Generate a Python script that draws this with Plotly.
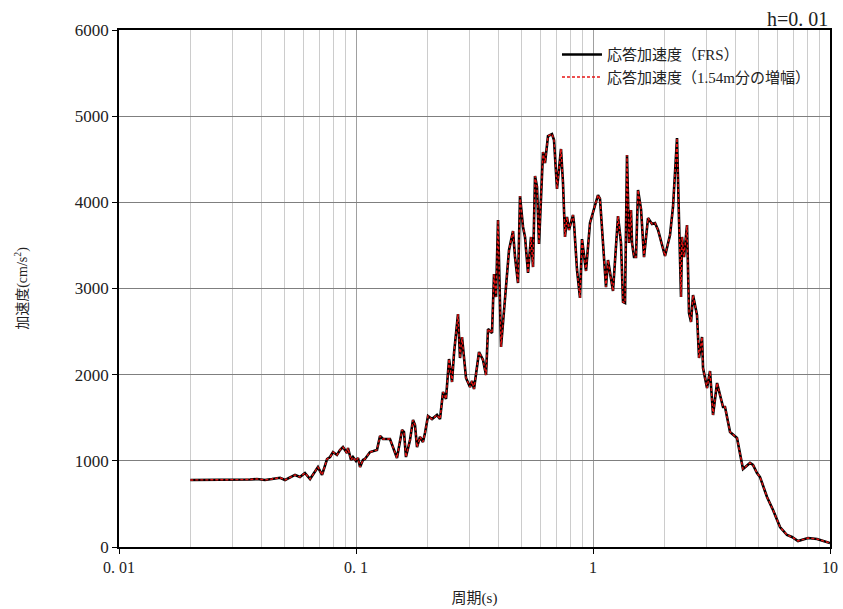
import plotly.graph_objects as go

# Floor response spectrum, damping h = 0.01
period = [
    0.0200, 0.0231, 0.0267, 0.0309, 0.0357, 0.0382, 0.0413, 0.0442, 0.0478, 0.0502,
    0.0553, 0.0580, 0.0609, 0.0640, 0.0671, 0.0691, 0.0719, 0.0755, 0.0777, 0.0800,
    0.0831, 0.0856, 0.0881, 0.0916, 0.0925, 0.0953, 0.0971, 0.1000, 0.1020, 0.1040,
    0.1070, 0.1091, 0.1146, 0.1226, 0.1263, 0.1300, 0.1391, 0.1433, 0.1489, 0.1564,
    0.1594, 0.1625, 0.1690, 0.1740, 0.1774, 0.1809, 0.1862, 0.1917, 0.1955, 0.2013,
    0.2093, 0.2197, 0.2262, 0.2329, 0.2398, 0.2469, 0.2542, 0.2592, 0.2694, 0.2747,
    0.2801, 0.2912, 0.3027, 0.3087, 0.3147, 0.3304, 0.3435, 0.3537, 0.3606, 0.3749,
    0.3823, 0.3898, 0.3974, 0.4092, 0.4296, 0.4423, 0.4598, 0.4688, 0.4826, 0.4921,
    0.5066, 0.5166, 0.5319, 0.5476, 0.5584, 0.5693, 0.5805, 0.5919, 0.6153, 0.6274,
    0.6459, 0.6714, 0.6846, 0.7049, 0.7328, 0.7472, 0.7618, 0.7768, 0.7921, 0.8234,
    0.8314, 0.8560, 0.8813, 0.8987, 0.9343, 0.9713, 1.0498, 1.0704, 1.1345, 1.1569,
    1.2145, 1.2751, 1.3128, 1.3385, 1.3648, 1.3916, 1.4189, 1.4468, 1.4609, 1.4896,
    1.5188, 1.5487, 1.5945, 1.6417, 1.7068, 1.7746, 1.8271, 1.8812, 2.0131, 2.1132,
    2.1757, 2.2620, 2.3064, 2.3516, 2.3746, 2.4212, 2.4928, 2.5418, 2.5917, 2.6426,
    2.7474, 2.8014, 2.8843, 2.9124, 3.0279, 3.1175, 3.2096, 3.3370, 3.5371, 3.6066,
    3.7865, 4.0512, 4.2946, 4.5966, 4.7326, 4.9200, 5.0656, 5.4234, 5.7491, 6.1526,
    6.5843, 6.9123, 7.3276, 8.0771, 8.8127, 10.000,
]

accel_frs = [
    778, 778, 778, 778, 783, 789, 778, 789, 804, 778,
    836, 812, 859, 789, 870, 928, 836, 1021, 1044, 1102,
    1068, 1126, 1160, 1091, 1149, 1010, 1044, 998, 1033, 928,
    1010, 1021, 1102, 1126, 1288, 1253, 1253, 1160, 1033, 1358,
    1335, 1044, 1242, 1474, 1416, 1160, 1277, 1219, 1323, 1520,
    1485, 1532, 1485, 1799, 1718, 2182, 1915, 2251, 2704, 2193,
    2437, 1961, 1857, 1926, 1834, 2263, 2170, 1996, 2530, 2483,
    3168, 2901, 3795, 2321, 2982, 3447, 3667, 3365, 3064, 4073,
    3714, 3598, 3180, 3598, 3249, 4305, 4178, 3516, 4584, 4456,
    4770, 4793, 4723, 4155, 4619, 4224, 3598, 3830, 3679, 3853,
    3760, 3215, 2890, 3574, 3203, 3760, 4085, 4041, 3017, 3331,
    2971, 3841, 3528, 2843, 2832, 4549, 3528, 3911, 3528, 3365,
    3365, 4143, 3922, 3365, 3818, 3749, 3760, 3679, 3377, 3621,
    3946, 4746, 3795, 2901, 3598, 3365, 3737, 2716, 2611, 2924,
    2692, 2193, 2437, 2077, 1845, 2042, 1532, 1903, 1625, 1625,
    1335, 1265, 905, 975, 952, 859, 812, 580, 429, 232,
    139, 116, 70, 104, 93, 46,
]

# Same spectrum including the amplification over 1.54 m
accel_amp = list(accel_frs)

x_tick_vals = [0.01, 0.1, 1, 10]
x_tick_text = ["0. 01", "0. 1", "1", "10"]
y_tick_vals = [0, 1000, 2000, 3000, 4000, 5000, 6000]

serif = "Liberation Serif, DejaVu Serif, serif"
jp = "Liberation Serif, Noto Sans CJK JP, serif"

fig = go.Figure()
fig.add_trace(go.Scatter(
    x=period, y=accel_frs, mode="lines",
    name="応答加速度（FRS）",
    line=dict(color="black", width=2.6),
))
fig.add_trace(go.Scatter(
    x=period, y=accel_amp, mode="lines",
    name="応答加速度（1.54m分の増幅）",
    line=dict(color="rgb(230,20,20)", width=1.4, dash="3px,2px"),
))

fig.update_layout(
    width=843, height=609,
    margin=dict(l=119, r=13, t=30, b=62, autoexpand=False),
    paper_bgcolor="white", plot_bgcolor="white",
    font=dict(family=serif, size=15, color="#222222"),
    showlegend=True,
    legend=dict(
        x=0.616, xanchor="left", y=0.984, yanchor="top",
        bgcolor="rgba(0,0,0,0)", borderwidth=0,
        font=dict(family=jp, size=15, color="#222222"),
        tracegroupgap=2, itemwidth=40,
    ),
    # white panel behind the legend, hiding the grid there
    shapes=[dict(
        type="rect", xref="paper", yref="paper", layer="between",
        x0=0.566, x1=1.0, y0=0.877, y1=0.977,
        fillcolor="white", line=dict(width=0),
    )],
    xaxis=dict(
        type="log", range=[-2, 1], automargin=False,
        tickvals=x_tick_vals, ticktext=x_tick_text,
        ticks="outside", ticklen=5, tickcolor="black",
        showline=True, linecolor="black", linewidth=1.5, mirror=True,
        showgrid=True, gridcolor="#a0a0a0", gridwidth=1,
        minor=dict(showgrid=True, gridcolor="#cccccc", gridwidth=1.3, dtick="D1", ticks=""),
        title=dict(text="周期(s)", font=dict(family=jp, size=15), standoff=18),
        tickfont=dict(family=serif, size=16),
        zeroline=False,
    ),
    yaxis=dict(
        range=[0, 6000], tickvals=y_tick_vals, automargin=False,
        ticks="outside", ticklen=5, tickcolor="black",
        showline=True, linecolor="black", linewidth=1.5, mirror=True,
        showgrid=True, gridcolor="#7f7f7f", gridwidth=1.3,
        title=dict(text="加速度(cm/s<sup>2</sup>)", font=dict(family=jp, size=14), standoff=44),
        tickfont=dict(family=serif, size=17),
        zeroline=False,
    ),
    annotations=[dict(
        text="h=0. 01", x=1, xref="paper", xanchor="right",
        y=1, yref="paper", yanchor="bottom", yshift=-2,
        showarrow=False, font=dict(family=serif, size=20, color="#222222"),
    )],
)

fig.write_html("out.html")
